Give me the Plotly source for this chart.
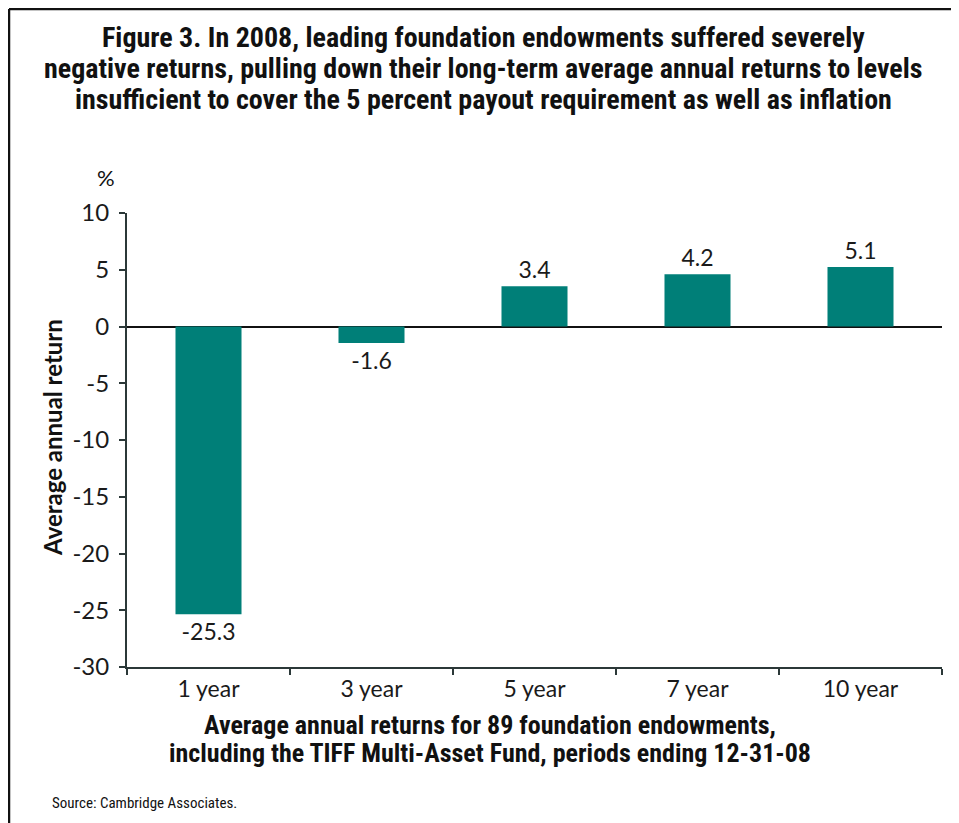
import plotly.graph_objects as go

categories = ["1 year", "3 year", "5 year", "7 year", "10 year"]
bar_heights = [-25.35, -1.45, 3.55, 4.6, 5.25]
value_labels = ["-25.3", "-1.6", "3.4", "4.2", "5.1"]
y_ticks = [10, 5, 0, -5, -10, -15, -20, -25, -30]
y_tick_text = ["10", "5", "0", "-5", "-10", "-15", "-20", "-25", "-30"]

title_lines = [
    "Figure 3. In 2008, leading foundation endowments suffered severely",
    "negative returns, pulling down their long-term average annual returns to levels",
    "insufficient to cover the 5 percent payout requirement as well as inflation",
]
xtitle_lines = [
    "Average annual returns for 89 foundation endowments,",
    "including the TIFF Multi-Asset Fund, periods ending 12-31-08",
]

TEAL = "#007F78"
AXIS = "#2b3838"
NUM_FONT = "Lato, Open Sans, sans-serif"
COND_FONT = "Liberation Sans Narrow, Roboto Condensed, Noto Sans, sans-serif"

# page body has an 8px margin; plot area in page coords: x 127..942, y 213..667
PL, PT, PW, PH = 127, 213, 815, 454


def px(xp):
    return (xp - PL) / PW


def py(yp):
    return (PT + PH - yp) / PH


fig = go.Figure()
fig.add_trace(go.Bar(
    x=categories, y=bar_heights, text=value_labels,
    textposition="outside", cliponaxis=False,
    marker=dict(color=TEAL, line=dict(width=0)),
    textfont=dict(family=NUM_FONT, size=23, color="#1a1a1a"),
    width=0.405, hoverinfo="skip",
))

fig.update_layout(
    width=951, height=815,
    margin=dict(l=PL - 8, r=951 - (PL - 8) - PW, t=PT - 8, b=815 - (PT - 8) - PH),
    paper_bgcolor="white", plot_bgcolor="white",
    showlegend=False,
    xaxis=dict(
        type="category", showgrid=False, zeroline=False,
        showline=True, linecolor=AXIS, linewidth=2,
        ticks="outside", tickson="boundaries", ticklen=6, tickcolor=AXIS, tickwidth=2,
        tickfont=dict(family=NUM_FONT, size=23, color="#1a1a1a"),
    ),
    yaxis=dict(
        range=[-30, 10], tickvals=y_ticks, ticktext=y_tick_text, showgrid=False,
        zeroline=True, zerolinecolor="#111111", zerolinewidth=1.5,
        showline=True, linecolor=AXIS, linewidth=2,
        ticks="outside", ticklen=6, tickcolor=AXIS, tickwidth=2,
        tickfont=dict(family=NUM_FONT, size=24, color="#1a1a1a"),
        ticklabelstandoff=5,
    ),
    font=dict(family=NUM_FONT, color="#111111"),
)

ann = []
for i, line in enumerate(title_lines):
    ann.append(dict(text="<b>%s</b>" % line, xref="paper", yref="paper",
                    x=px(483), y=py(37 + 31.5 * i),
                    xanchor="center", yanchor="middle", showarrow=False,
                    font=dict(family=COND_FONT, size=28, color="#111111")))
for i, line in enumerate(xtitle_lines):
    ann.append(dict(text="<b>%s</b>" % line, xref="paper", yref="paper",
                    x=px(490), y=py(725 + 28 * i),
                    xanchor="center", yanchor="middle", showarrow=False,
                    font=dict(family=COND_FONT, size=26, color="#111111")))
ann.append(dict(text="<b>Average annual return</b>", xref="paper", yref="paper",
                x=px(52), y=py(438), textangle=-90,
                xanchor="center", yanchor="middle", showarrow=False,
                font=dict(family=NUM_FONT, size=24, color="#111111")))
ann.append(dict(text="%", xref="paper", yref="paper",
                x=px(106), y=py(178),
                xanchor="center", yanchor="middle", showarrow=False,
                font=dict(family=NUM_FONT, size=22, color="#111111")))
ann.append(dict(text="Source: Cambridge Associates.", xref="paper", yref="paper",
                x=px(50), y=py(803),
                xanchor="left", yanchor="middle", showarrow=False,
                font=dict(family=COND_FONT, size=15, color="#111111")))
fig.update_layout(annotations=ann)

# frame (left and top edges)
fig.add_shape(type="line", xref="paper", yref="paper",
              x0=px(9), x1=px(959), y0=py(9), y1=py(9),
              line=dict(color="#111111", width=2.5))
fig.add_shape(type="line", xref="paper", yref="paper",
              x0=px(9), x1=px(9), y0=py(9), y1=py(823),
              line=dict(color="#111111", width=2.5))

fig.write_html("out.html")
